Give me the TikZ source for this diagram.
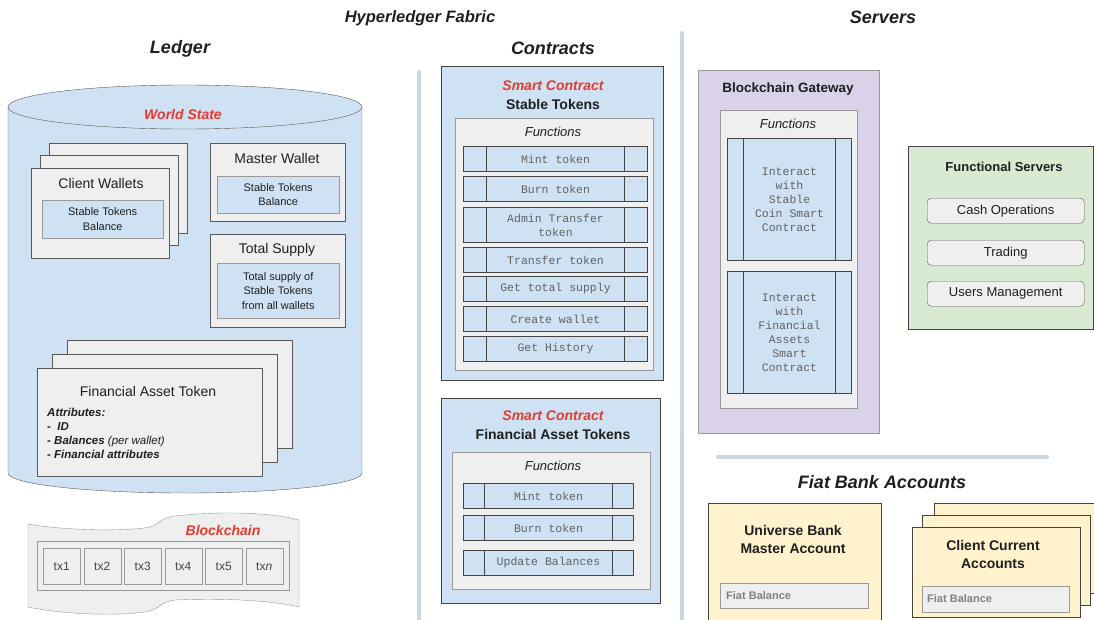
\documentclass[tikz,border=0pt]{standalone}
\usepackage{fontspec}
\setmainfont{Liberation Sans}
\setmonofont{Liberation Mono}
\usetikzlibrary{positioning}

\definecolor{ledgerblue}{HTML}{CFE2F3}
\definecolor{boxgray}{HTML}{EFEFEF}
\definecolor{edgegray}{HTML}{595959}
\definecolor{softgray}{HTML}{999999}
\definecolor{darkedge}{HTML}{434343}
\definecolor{smartred}{HTML}{E8392F}
\definecolor{gatepurple}{HTML}{D9D2E9}
\definecolor{servgreen}{HTML}{D9EAD3}
\definecolor{fiatyellow}{HTML}{FFF2CC}
\definecolor{barblue}{HTML}{CAD8E6}
\definecolor{monogray}{HTML}{626262}
\definecolor{inktext}{HTML}{1F1F1F}

\begin{document}
\begin{tikzpicture}[
        x                   = 1pt,
        y                   = -1pt,
        heading/.style      = {text=inktext, font=\fontsize{18}{20}\selectfont\bfseries\itshape},
        redhead/.style      = {text=smartred, font=\fontsize{14}{16}\selectfont\bfseries\itshape},
        boxtitle/.style     = {text=inktext, font=\fontsize{14}{16}\selectfont},
        boldtitle/.style    = {text=inktext, font=\fontsize{14}{18}\selectfont\bfseries, align=center},
        dims/.style 2 args  = {minimum width=#1, minimum height=#2},
        card/.style         = {draw=edgegray, fill=boxgray, anchor=north west, inner sep=0pt},
        valuebox/.style     = {draw=softgray, fill=ledgerblue, anchor=north west, inner sep=0pt,
                               align=center, text=inktext, font=\fontsize{11}{14.5}\selectfont},
        contract/.style     = {draw=darkedge, fill=ledgerblue, anchor=north west, inner sep=0pt, line width=0.9pt},
        funcbox/.style      = {draw=softgray, fill=boxgray, anchor=north west, inner sep=0pt},
        functitle/.style    = {text=inktext, font=\fontsize{13}{15}\selectfont\itshape},
        fnrow/.style        = {draw=darkedge, fill=ledgerblue, line width=1pt, anchor=north west, inner sep=0pt,
                               align=center, text=monogray, font=\fontsize{11.5}{14}\selectfont\ttfamily,
                               path picture={\draw[darkedge, line width=1pt]
                                 ([xshift=#1]path picture bounding box.north west) -- ([xshift=#1]path picture bounding box.south west)
                                 ([xshift=-#1]path picture bounding box.north east) -- ([xshift=-#1]path picture bounding box.south east);}},
        fnrow/.default      = 23pt,
        pill/.style         = {draw=edgegray, fill=boxgray, rounded corners=4pt, anchor=north west, inner sep=0pt,
                               text=inktext, font=\fontsize{13}{15}\selectfont},
        fiatcard/.style     = {draw=darkedge, fill=fiatyellow, anchor=north west, inner sep=0pt, line width=0.8pt},
        fiatlabel/.style    = {text=monogray!80, font=\fontsize{11}{13}\selectfont\bfseries, anchor=west, inner sep=0pt},
        bar/.style          = {draw=barblue, line width=4pt, line cap=round},
      ]
    \useasboundingbox (0,0) rectangle (1094,619);
    \clip (0,0) rectangle (1094,619);

    % headings
    \node[heading, font=\fontsize{16.5}{18}\selectfont\bfseries\itshape] (fabric) at (420,18) {Hyperledger Fabric};
    \node[heading] (ledger) at (180,49) {Ledger};
    \node[heading] (contracts) at (553,48) {Contracts};
    \node[heading] (servers) at (883,17) {Servers};

    \draw[bar] (419,72) -- (419,630);
    \draw[bar] (682,33) -- (682,630);

    % ledger cylinder
    \path[draw=edgegray, fill=ledgerblue] (8,107) -- (8,473)
        .. controls (8,484) and (87,493) .. (185,493)
        .. controls (283,493) and (362,484) .. (362,473) -- (362,107);
    \draw[edgegray, fill=ledgerblue] (185,107) ellipse [x radius=177pt, y radius=22pt];
    \node[redhead] (world) at (183,114) {World State};

    \node[card, dims={138}{90}] (cw3) at (49,143) {};
    \node[card, dims={138}{90}] (cw2) at (40,155) {};
    \node[card, dims={138}{90}] (cw1) at (31,168) {};
    \node[boxtitle] (cwtitle) at (101,183) {Client Wallets};
    \node[valuebox, dims={121}{38}] (cwbal) at (42,200) {Stable Tokens\\Balance};

    \node[card, dims={135}{78}] (master) at (210,143) {};
    \node[boxtitle] (mastertitle) at (277,158) {Master Wallet};
    \node[valuebox, dims={122}{37}] (masterbal) at (217,176) {Stable Tokens\\Balance};

    \node[card, dims={135}{93}] (supply) at (210,234) {};
    \node[boxtitle] (supplytitle) at (277,250) {Total Supply};
    \node[valuebox, dims={122}{55}] (supplyval) at (217,263) {Total supply of\\Stable Tokens\\from all wallets};

    \node[card, dims={225}{108}] (fat3) at (67,340) {};
    \node[card, dims={225}{108}] (fat2) at (52,354) {};
    \node[card, dims={225}{108}] (fat1) at (37,368) {};
    \node[boxtitle] (fattitle) at (148,391) {Financial Asset Token};
    \node[anchor=north west, inner sep=0pt, align=left, text=inktext,
          font=\fontsize{11.5}{14}\selectfont\bfseries\itshape] (fatattr) at (47,408)
        {Attributes:\\-\ \ ID\\- Balances \textmd{(per wallet)}\\- Financial attributes};

    % blockchain tape
    \path[draw=softgray, fill=boxgray] (28,524)
        .. controls (60,530) and (125,532) .. (150,527)
        .. controls (160,524) and (160,518) .. (175,516)
        .. controls (220,511) and (270,512) .. (299,520) -- (299,607)
        .. controls (270,600) and (220,598) .. (175,600)
        .. controls (160,602) and (160,608) .. (150,611)
        .. controls (120,617) and (60,614) .. (28,607) -- cycle;
    \node[redhead] (chain) at (223,530) {Blockchain};
    \node[draw=softgray, fill=boxgray, anchor=north west, inner sep=0pt, dims={252}{49}] (txrow) at (37,541) {};
    \foreach \t [count=\i from 0] in {tx1,tx2,tx3,tx4,tx5,tx\textit{n}}
        \node[draw=softgray, fill=boxgray, anchor=north west, inner sep=0pt, dims={37}{36},
              text=darkedge, font=\fontsize{12}{14}\selectfont] (tx\i) at (43+40.5*\i,548) {\t};

    % stable tokens contract
    \node[contract, dims={222}{314}] (stable) at (441,66) {};
    \node[redhead] (stablered) at (553,86) {Smart Contract};
    \node[boldtitle] (stabletitle) at (553,104) {Stable Tokens};
    \node[funcbox, dims={198}{252}] (stablefn) at (455,118) {};
    \node[functitle] (stablefntitle) at (553,132) {Functions};
    \foreach \y/\h/\txt [count=\i] in {146/25/Mint token, 176/25/Burn token, 207/35/{Admin Transfer\\token},
                                         247/25/Transfer token, 276/25/Get total supply, 306/25/Create wallet,
                                         336/25/Get History}
        \node[fnrow, dims={184}{\h}] (st\i) at (463,\y) {\txt};

    % financial asset tokens contract
    \node[contract, dims={219}{205}] (asset) at (441,398) {};
    \node[redhead] (assetred) at (553,416) {Smart Contract};
    \node[boldtitle] (assettitle) at (553,434) {Financial Asset Tokens};
    \node[funcbox, dims={198}{137}] (assetfn) at (452,452) {};
    \node[functitle] (assetfntitle) at (553,466) {Functions};
    \foreach \y/\txt [count=\i] in {483/Mint token, 515/Burn token, 550/Update Balances}
        \node[fnrow=21pt, dims={170}{25}] (fa\i) at (463,\y) {\txt};

    % blockchain gateway
    \node[draw=softgray, fill=gatepurple, anchor=north west, inner sep=0pt, dims={181}{363}] (gateway) at (698,70) {};
    \node[boldtitle, font=\fontsize{13.5}{16}\selectfont\bfseries] (gatetitle) at (788,89) {Blockchain Gateway};
    \node[funcbox, dims={137}{298}] (gatefn) at (720,110) {};
    \node[functitle] (gatefntitle) at (788,124) {Functions};
    \node[fnrow=16pt, dims={124}{122}] (gate1) at (727,138) {Interact\\with\\Stable\\Coin Smart\\Contract};
    \node[fnrow=16pt, dims={124}{122}] (gate2) at (727,271) {Interact\\with\\Financial\\Assets\\Smart\\Contract};

    % functional servers
    \node[draw=darkedge, fill=servgreen, anchor=north west, inner sep=0pt, dims={185}{183}] (functional) at (908,146) {};
    \node[boldtitle, font=\fontsize{13}{15}\selectfont\bfseries] (functitle) at (1004,167) {Functional Servers};
    \node[pill, dims={157}{25}] (cash) at (927,198) {Cash Operations};
    \node[pill, dims={157}{25}] (trading) at (927,240) {Trading};
    \node[pill, dims={157}{25}] (users) at (927,281) {Users Management};

    % fiat bank accounts
    \draw[bar] (718,457) -- (1047,457);
    \node[heading] (fiat) at (882,482) {Fiat Bank Accounts};

    \node[fiatcard, dims={173}{140}] (universe) at (708,503) {};
    \node[boldtitle] (universetitle) at (793,539) {Universe Bank\\Master Account};
    \node[draw=softgray, fill=boxgray, anchor=north west, inner sep=0pt, dims={148}{25}] (universebal) at (720,583) {};
    \node[fiatlabel] (universelabel) at (726,596) {Fiat Balance};

    \node[fiatcard, dims={168}{90}] (client3) at (934,503) {};
    \node[fiatcard, dims={168}{90}] (client2) at (922,515) {};
    \node[fiatcard, dims={168}{90}] (client1) at (912,527) {};
    \node[boldtitle] (clienttitle) at (993,554) {Client Current\\Accounts};
    \node[draw=softgray, fill=boxgray, anchor=north west, inner sep=0pt, dims={147}{26}] (clientbal) at (922,586) {};
    \node[fiatlabel] (clientlabel) at (927,599) {Fiat Balance};
\end{tikzpicture}
\end{document}
